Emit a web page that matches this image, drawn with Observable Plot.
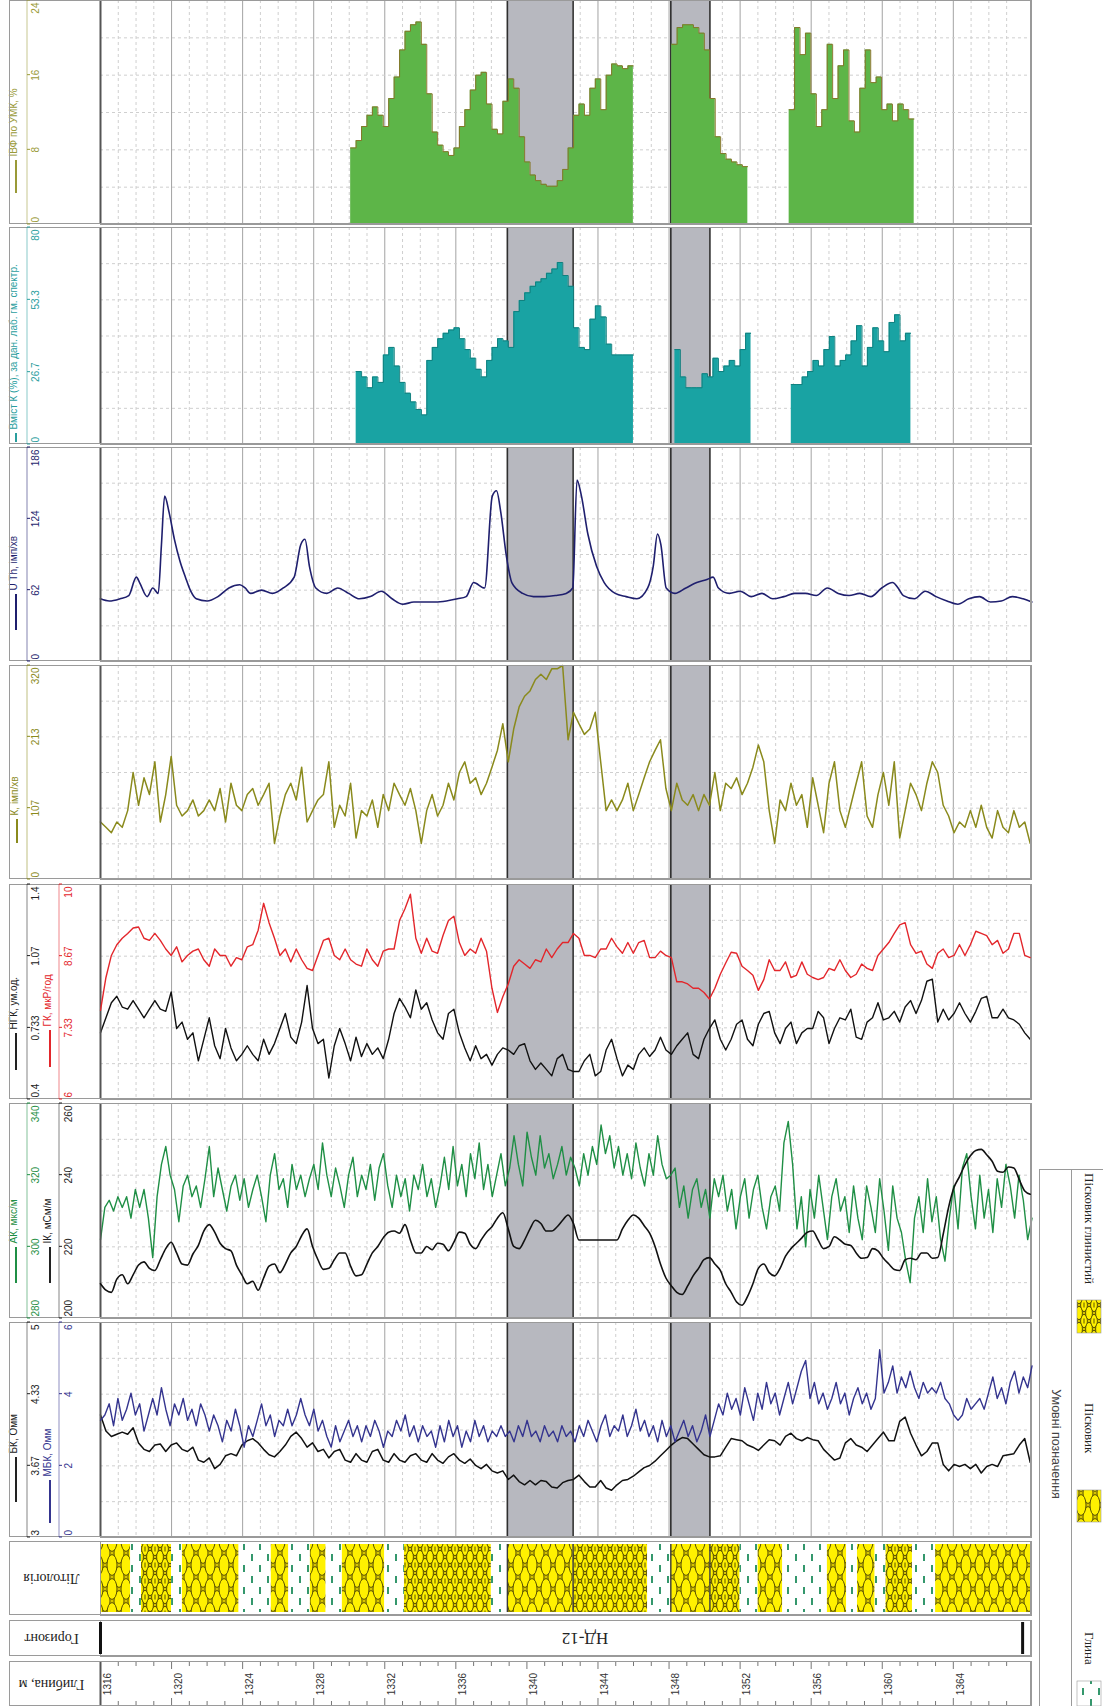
<!DOCTYPE html>
<html><head><meta charset="utf-8">
<script src="https://cdn.jsdelivr.net/npm/d3@7"></script>
<script src="https://cdn.jsdelivr.net/npm/@observablehq/plot@0.6"></script>
<style>
body{margin:0;background:#fff;}
#root{position:relative;width:1103px;height:1706px;overflow:hidden;font-family:Arial,"Liberation Sans",sans-serif;}
</style></head><body><div id="root"></div>
<script>
// ---------------- DATA ----------------
const START = 1316;
const DEPTH_END = 1368.4;
const STEP5 = 0.306;   // sampling step (m) of the dense logs
const STEP4 = 0.245;

const kValues = [86,78,70,86,78,103,160,111,152,127,176,86,127,184,111,95,103,119,95,103,119,103,136,86,144,111,103,127,136,111,127,144,54,95,127,144,119,168,86,103,119,127,176,78,111,95,144,62,103,95,119,78,127,103,144,127,111,136,103,54,103,127,95,111,144,119,160,176,144,152,127,144,168,193,233,176,225,258,274,282,299,307,299,315,315,320,209,250,233,217,225,250,176,103,119,103,119,144,103,127,152,176,193,209,136,103,144,119,111,127,103,127,111,160,103,144,136,152,127,144,168,201,176,103,54,119,103,144,111,127,78,152,111,70,144,176,103,78,111,144,176,95,78,127,160,111,176,62,103,144,127,103,144,176,160,111,95,70,86,78,103,78,111,78,62,103,78,70,103,78,86,54];

const ngkValues = [.71,.78,.85,.88,.83,.82,.86,.82,.78,.82,.86,.82,.81,.90,.73,.76,.68,.71,.58,.68,.78,.65,.59,.73,.64,.58,.61,.65,.61,.58,.68,.61,.66,.73,.80,.69,.66,.76,.93,.73,.66,.68,.50,.65,.73,.66,.58,.69,.60,.66,.61,.64,.59,.68,.80,.87,.83,.78,.91,.82,.85,.77,.71,.68,.80,.82,.71,.64,.58,.65,.59,.61,.56,.61,.64,.63,.61,.65,.66,.58,.54,.57,.54,.51,.59,.61,.54,.53,.53,.58,.61,.51,.53,.63,.68,.59,.51,.56,.54,.61,.64,.60,.63,.69,.63,.61,.65,.68,.71,.61,.59,.68,.73,.77,.68,.63,.68,.75,.77,.68,.65,.75,.80,.81,.71,.66,.73,.76,.66,.71,.73,.73,.81,.78,.66,.73,.78,.77,.82,.69,.68,.76,.78,.85,.77,.78,.81,.76,.83,.86,.80,.86,.95,.96,.76,.82,.77,.80,.85,.80,.76,.81,.87,.88,.78,.78,.82,.78,.77,.75,.71,.68];

const gkValues = [7.66,8.27,8.68,8.88,9.00,9.09,9.19,9.21,9.00,8.96,9.09,8.96,8.80,8.68,8.84,8.56,8.68,8.76,8.80,8.60,8.48,8.80,8.68,8.68,8.48,8.64,8.60,8.84,8.88,9.15,9.65,9.29,9.00,8.68,8.80,8.56,8.80,8.60,8.44,8.40,8.68,8.96,9.00,8.68,8.60,8.80,8.60,8.52,8.48,8.80,8.60,8.48,8.76,8.80,8.80,9.33,9.55,9.82,9.00,8.72,9.00,8.76,8.72,9.05,9.33,9.41,8.92,8.68,8.80,8.72,9.00,8.76,8.07,7.62,7.91,8.15,8.48,8.60,8.52,8.44,8.60,8.56,8.80,8.64,8.80,8.92,8.92,9.09,9.00,8.68,8.68,8.64,8.80,8.80,9.00,8.84,8.72,8.92,8.72,8.92,8.96,8.64,8.64,8.76,8.68,8.64,8.19,8.19,8.15,8.07,8.07,7.99,7.87,8.07,8.33,8.54,8.74,8.72,8.48,8.40,8.31,8.03,8.23,8.60,8.40,8.40,8.56,8.27,8.31,8.56,8.33,8.27,8.23,8.27,8.44,8.40,8.60,8.40,8.27,8.33,8.52,8.44,8.40,8.68,8.80,8.92,9.09,9.25,9.29,8.88,8.72,8.76,8.52,8.44,8.72,8.80,8.64,8.68,8.88,8.68,8.88,9.13,9.09,9.05,8.88,8.96,8.72,8.80,9.09,9.09,8.68,8.64];

const ikValues = [209.7,207.9,207.3,211.0,212.2,209.7,212.2,214.9,215.8,214.0,213.4,216.4,219.5,221.3,218.3,215.2,214.9,218.0,220.4,224.4,226.2,224.1,221.0,219.5,218.9,214.9,212.2,209.7,210.4,207.9,211.3,214.6,215.2,212.8,215.2,218.3,220.1,223.1,225.0,220.1,216.4,213.7,214.0,216.4,218.3,218.3,214.6,211.9,212.2,215.2,218.3,220.1,222.5,224.1,224.4,223.8,226.2,221.9,218.3,218.3,220.1,219.2,221.0,220.7,218.9,221.3,224.1,223.8,220.7,219.5,221.9,224.1,225.6,228.0,229.5,225.0,220.1,219.5,221.9,225.0,227.4,226.5,224.4,224.4,225.6,227.4,228.9,226.5,221.9,221.9,221.9,221.9,221.9,221.9,221.9,221.9,225.0,227.4,228.9,228.0,225.9,223.8,220.1,215.2,211.3,209.1,207.3,206.7,209.1,211.9,214.0,216.4,217.0,215.2,213.4,209.7,207.3,204.6,203.7,206.1,209.7,214.0,215.2,212.8,211.9,214.0,217.4,219.5,221.0,222.5,224.1,224.4,221.9,219.5,220.1,222.8,221.9,220.7,220.4,218.3,216.8,217.0,219.5,218.9,216.8,215.2,213.7,213.4,216.4,216.8,216.4,218.3,218.3,216.8,217.0,223.5,231.1,236.6,239.6,242.9,245.4,246.9,247.2,245.7,243.9,241.1,240.8,242.3,242.0,238.7,235.6,234.7];

const bkValues = [4.14,3.99,3.94,3.96,3.98,3.96,4.02,3.88,3.82,3.80,3.86,3.87,3.80,3.86,3.88,3.82,3.80,3.84,3.72,3.70,3.74,3.64,3.68,3.76,3.78,3.76,3.86,3.90,3.92,3.88,3.82,3.77,3.75,3.80,3.86,3.94,3.98,3.92,3.84,3.88,3.80,3.82,3.74,3.80,3.82,3.72,3.70,3.78,3.72,3.70,3.80,3.82,3.72,3.70,3.78,3.72,3.70,3.76,3.78,3.72,3.70,3.78,3.72,3.69,3.75,3.78,3.72,3.69,3.73,3.67,3.64,3.68,3.62,3.60,3.62,3.54,3.58,3.52,3.49,3.53,3.49,3.53,3.52,3.47,3.46,3.51,3.53,3.54,3.58,3.52,3.47,3.47,3.53,3.46,3.44,3.49,3.53,3.54,3.57,3.61,3.65,3.67,3.71,3.76,3.81,3.86,3.90,3.93,3.92,3.87,3.82,3.77,3.75,3.75,3.76,3.84,3.92,3.91,3.90,3.86,3.84,3.81,3.86,3.91,3.90,3.86,3.94,3.97,3.92,3.90,3.93,3.91,3.90,3.82,3.77,3.72,3.74,3.88,3.92,3.86,3.84,3.80,3.86,3.92,3.98,3.90,3.90,4.08,4.12,3.97,3.86,3.76,3.80,3.88,3.88,3.68,3.62,3.68,3.66,3.68,3.64,3.68,3.60,3.66,3.68,3.66,3.76,3.77,3.78,3.86,3.92,3.70];

const akValues = [302,311,313,310,314,311,314,308,316,311,316,308,297,314,323,328,320,316,307,317,320,314,317,311,319,328,314,322,316,310,317,320,313,319,311,316,320,314,307,320,326,316,319,311,323,316,320,314,319,323,316,329,320,314,322,317,311,320,325,314,320,316,323,313,322,326,317,311,320,314,319,310,320,316,323,314,319,311,317,325,316,328,317,323,314,326,319,329,316,323,314,320,326,317,322,331,323,317,332,325,320,331,322,326,319,323,328,320,325,322,317,326,320,328,323,334,326,331,322,328,320,326,319,329,322,317,326,320,331,323,319,320,322,311,317,308,316,319,311,316,308,319,314,320,310,316,305,314,319,308,316,320,311,305,314,317,310,329,335,323,305,314,300,316,308,320,311,302,314,319,310,314,304,317,308,302,317,311,304,319,310,299,317,308,304,296,290,308,314,304,319,307,314,302,296,308,317,305,322,326,314,305,320,308,316,304,319,311,323,317,308,320,313,302,308];

const mbkValues = [3.27,3.42,3.73,3.12,3.88,3.27,3.58,4.03,3.42,3.73,2.97,3.42,3.88,3.42,4.18,3.58,3.12,3.73,3.42,3.88,3.27,3.58,3.12,3.73,3.42,2.97,3.42,3.12,2.67,3.27,2.97,3.58,3.12,2.52,3.12,2.82,3.27,3.73,3.12,3.42,2.82,3.27,3.12,3.58,3.12,3.42,3.88,3.42,3.12,3.58,2.97,3.27,2.82,2.52,3.12,2.67,2.97,3.27,2.82,3.12,2.67,3.12,2.82,3.27,2.97,2.52,2.97,2.82,3.27,2.97,3.42,2.82,3.12,2.67,3.12,2.82,2.97,2.52,3.12,2.67,3.27,2.82,3.12,2.52,2.97,2.67,3.27,2.82,3.12,2.67,2.97,2.82,3.12,2.82,2.97,2.67,3.12,2.82,3.27,2.82,2.97,2.67,3.12,2.82,2.97,2.67,3.12,2.82,2.97,2.67,3.12,2.82,3.27,2.97,2.67,3.12,3.42,2.82,3.12,2.97,3.42,2.82,3.12,3.58,2.97,3.27,2.82,3.12,2.67,3.27,2.82,3.12,2.67,2.97,3.27,2.82,3.12,2.67,2.97,3.42,2.82,3.27,3.73,3.42,4.03,3.58,3.88,3.42,4.18,3.73,3.27,4.03,3.58,4.33,3.73,4.03,3.42,3.88,4.33,3.73,4.18,4.64,4.94,3.88,4.33,3.73,4.03,3.58,3.88,4.33,3.73,4.03,3.42,3.88,4.18,3.73,4.03,3.58,3.88,5.24,4.03,4.33,4.79,4.03,4.48,4.18,4.64,4.18,3.88,4.33,4.03,4.18,4.03,4.33,3.88,3.73,3.42,3.27,3.42,3.88,3.58,3.73,3.88,3.58,4.03,4.48,3.88,4.18,3.73,4.33,4.64,4.03,4.48,4.18,4.79];

const uthDepth = [1316.0,1316.49,1317.1,1317.59,1318.02,1318.2,1318.63,1318.94,1319.25,1319.43,1319.61,1319.86,1320.16,1320.47,1320.78,1321.08,1321.39,1322.0,1322.61,1323.23,1323.84,1324.14,1324.45,1325.06,1325.68,1326.29,1326.9,1327.27,1327.51,1327.76,1328.12,1328.74,1329.35,1329.96,1330.57,1331.19,1331.8,1332.41,1333.02,1333.64,1334.25,1334.86,1335.47,1336.09,1336.58,1337.0,1337.62,1338.05,1338.29,1338.53,1338.84,1339.15,1339.76,1340.37,1340.98,1341.6,1342.21,1342.58,1342.82,1343.07,1343.43,1343.92,1344.35,1344.97,1345.58,1346.19,1346.8,1347.11,1347.35,1347.54,1347.84,1348.33,1348.95,1349.56,1350.17,1350.48,1350.78,1351.4,1352.01,1352.62,1353.23,1353.84,1354.46,1355.07,1355.68,1356.29,1356.91,1357.52,1358.13,1358.74,1359.36,1359.97,1360.58,1360.89,1361.19,1361.81,1362.42,1363.03,1363.64,1364.25,1364.87,1365.48,1366.09,1366.7,1367.32,1367.93,1368.42];
const uthValues = [54.5,52.6,54.5,57.3,73.3,68.6,56.4,63.9,59.2,101.5,143.7,129.6,106.2,87.4,73.3,61.1,54.5,52.6,56.4,63.9,66.7,63.9,59.2,62,59.2,63.9,73.3,101.5,106.2,82.7,63.9,59.2,63.9,59.2,54.5,56.4,61.1,54.5,49.8,51.7,51.7,51.7,52.6,54.5,56.4,68.6,63.9,143.7,148.4,129.6,92.1,68.6,59.2,56.4,56.4,57.3,59.2,63.9,157.8,143.7,110.8,82.7,68.6,59.2,56.4,54.5,63.9,82.7,110.8,101.5,63.9,59.2,63.9,68.6,71.4,73.3,63.9,59.2,61.1,56.4,59.2,54.5,56.4,59.2,59.2,57.3,63.9,59.2,57.3,59.2,56.4,63.9,68.6,63.9,57.3,54.5,61.1,56.4,52.6,49.8,54.5,56.4,51.7,52.6,56.4,54.5,51.7];

const ivfSegments = [
  {start: 1330.08, values: [8.2,9.0,10.5,11.7,12.6,11.7,10.5,13.5,15.8,18.7,20.7,21.4,21.7,19.3,14.0,9.9,8.5,7.8,7.4,8.2,10.5,12.3,14.4,16.0,16.3,12.9,10.2,9.7,13.2,15.6,14.6,9.4,6.7,5.3,4.7,4.3,4.1,4.1,4.7,5.9,8.2,11.7,12.9,11.7,14.6,15.6,12.3,16.0,17.2,17.0,16.7,17.0]},
  {start: 1348.15, values: [19.3,21.1,21.4,21.4,21.1,20.5,18.7,13.5,9.4,7.6,7.0,6.7,6.4,6.2]},
  {start: 1354.76, values: [12.3,21.1,18.2,20.5,14.0,10.5,12.3,19.3,13.5,17.0,18.7,11.1,9.9,14.6,18.7,15.2,15.8,12.3,12.9,11.1,12.9,12.3,11.3]}
];
const kContentSegments = [
  {start: 1330.39, values: [26.9,24.9,20.9,24.9,22.9,33.0,35.8,28.9,22.9,18.9,15.7,12.9,10.9,31.0,35.8,39.0,41.0,42.2,43.0,39.0,35.0,31.8,27.7,24.9,31.0,35.8,39.0,38.2,35.8,49.0,53.1,55.9,58.3,59.9,61.1,63.1,64.7,67.1,62.3,58.3,43.0,35.8,35.0,46.2,51.1,47.0,37.0,33.0,33.0,33.0,33.0]},
  {start: 1348.33, values: [35.0,24.9,20.9,20.9,20.9,26.1,24.9,31.8,26.9,28.9,31.0,28.9,35.0,41.0]},
  {start: 1354.88, values: [22.1,22.1,24.9,26.9,31.0,28.9,35.0,39.8,28.9,31.0,33.0,38.2,43.8,28.9,35.8,43.0,38.2,34.2,45.0,47.8,38.2,41.0]}
];

const lithology = [
 {from:1316.0,to:1317.7,rock:"sand"},{from:1317.7,to:1318.3,rock:"clay"},
 {from:1318.3,to:1320.0,rock:"sandclay"},{from:1320.0,to:1320.6,rock:"clay"},
 {from:1320.6,to:1323.8,rock:"sand"},{from:1323.8,to:1325.6,rock:"clay"},
 {from:1325.6,to:1326.6,rock:"sand"},{from:1326.6,to:1327.8,rock:"clay"},
 {from:1327.8,to:1328.7,rock:"sand"},{from:1328.7,to:1329.6,rock:"clay"},
 {from:1329.6,to:1332.0,rock:"sand"},{from:1332.0,to:1333.1,rock:"clay"},
 {from:1333.1,to:1338.0,rock:"sandclay"},{from:1338.0,to:1338.9,rock:"clay"},
 {from:1338.9,to:1342.6,rock:"sand"},{from:1342.6,to:1346.8,rock:"sandclay"},
 {from:1346.8,to:1348.1,rock:"clay"},{from:1348.1,to:1350.3,rock:"sand"},
 {from:1350.3,to:1352.0,rock:"sandclay"},{from:1352.0,to:1353.0,rock:"clay"},
 {from:1353.0,to:1354.4,rock:"sand"},{from:1354.4,to:1356.9,rock:"clay"},
 {from:1356.9,to:1358.0,rock:"sand"},{from:1358.0,to:1358.6,rock:"clay"},
 {from:1358.6,to:1359.6,rock:"sand"},{from:1359.6,to:1360.2,rock:"clay"},
 {from:1360.2,to:1361.7,rock:"sandclay"},{from:1361.7,to:1363.0,rock:"clay"},
 {from:1363.0,to:1368.4,rock:"sand"}
];
const bands = [{from:1338.9,to:1342.6},{from:1348.1,to:1350.3}];
const horizonName = "НД-12";
const horizonEnds = [1316, 1367.9];
const depthLabelTicks = [1316,1320,1324,1328,1332,1336,1340,1344,1348,1352,1356,1360,1364];

const ivfTicks = [0,8,16,24],            ivfLabels = ["0","8","16","24"];
const kcTicks = [0,26.67,53.33,80],      kcLabels = ["0","26.7","53.3","80"];
const uthTicks = [0,62,124,186],         uthLabels = ["0","62","124","186"];
const kTicks = [0,106.67,213.33,320],    kLabels = ["0","107","213","320"];
const ngkTicks = [0.4,0.733,1.067,1.4],  ngkLabels = ["0.4","0.733","1.07","1.4"];
const gkTicks = [6,7.333,8.667,10],      gkLabels = ["6","7.33","8.67","10"];
const akTicks = [280,300,320,340],       akLabels = ["280","300","320","340"];
const ikTicks = [200,220,240,260],       ikLabels = ["200","220","240","260"];
const bkTicks = [3,3.667,4.333,5],       bkLabels = ["3","3.67","4.33","5"];
const mbkTicks = [0,2,4,6],              mbkLabels = ["0","2","4","6"];

const legendItems = [
  {label:"Пісковик глинистий", rock:"sandclay"},
  {label:"Пісковик", rock:"sand"},
  {label:"Глина", rock:"clay"}
];

// ---------------- HELPERS ----------------
const root = document.getElementById("root");
const W = 1031, X0 = 100;
const DOMAIN = [START, DEPTH_END];
const FONT = "font-family: Arial, 'Liberation Sans', sans-serif;";
const minorDepths = d3.range(1317, 1369).filter(d => (d - 1316) % 4 !== 0);
const majorDepths = d3.range(1320, 1368, 4);

root.insertAdjacentHTML("beforeend", `
<svg width="0" height="0" style="position:absolute">
<defs>
<pattern id="pSand" patternUnits="userSpaceOnUse" width="14" height="24">
  <rect width="14" height="24" fill="#d6c400"/>
  <g fill="#fff100" stroke="#463e00" stroke-width="0.9">
  <ellipse cx="7" cy="12" rx="5" ry="10.4"/>
  <ellipse cx="0" cy="0" rx="5" ry="10.4"/><ellipse cx="14" cy="0" rx="5" ry="10.4"/>
  <ellipse cx="0" cy="24" rx="5" ry="10.4"/><ellipse cx="14" cy="24" rx="5" ry="10.4"/>
  </g>
</pattern>
<pattern id="pSandClay" patternUnits="userSpaceOnUse" width="10" height="16">
  <rect width="10" height="16" fill="#d6c400"/>
  <g fill="#fff100" stroke="#463e00" stroke-width="0.9">
  <ellipse cx="5" cy="8" rx="3.4" ry="6.6"/>
  <ellipse cx="0" cy="0" rx="3.4" ry="6.6"/><ellipse cx="10" cy="0" rx="3.4" ry="6.6"/>
  <ellipse cx="0" cy="16" rx="3.4" ry="6.6"/><ellipse cx="10" cy="16" rx="3.4" ry="6.6"/>
  </g>
  <line x1="5" y1="5.5" x2="5" y2="10.5" stroke="#463e00" stroke-width="0.9"/>
</pattern>
<pattern id="pClay" patternUnits="userSpaceOnUse" width="16" height="22">
  <rect width="16" height="22" fill="#ffffff"/>
  <line x1="4" y1="2" x2="4" y2="9" stroke="#1e8c5c" stroke-width="1.8"/>
  <line x1="12" y1="13" x2="12" y2="20" stroke="#1e8c5c" stroke-width="1.8"/>
</pattern>
</defs></svg>`);

const patternOf = {sand: "url(#pSand)", sandclay: "url(#pSandClay)", clay: "url(#pClay)"};

function place(el, top, left = 0) {
  el.style.position = "absolute"; el.style.top = top + "px"; el.style.left = left + "px";
  root.appendChild(el);
}
const series = (values, step) => values.map((v, i) => ({depth: START + i * step, value: v}));
const segSeries = (segs, step) => segs.flatMap((s, k) => {
  const pts = s.values.map((v, i) => ({depth: s.start + i * step, value: v, seg: k}));
  pts.push({depth: s.start + s.values.length * step, value: s.values[s.values.length - 1], seg: k});
  return pts;
});

function gridMarks(domain) {
  const [a, b] = domain;
  const ys = d3.range(1, 6).map(k => a + (b - a) * k / 6);
  return [
    Plot.ruleX(minorDepths, {stroke: "#cfcfcf", strokeDasharray: "3,3"}),
    Plot.ruleX(majorDepths, {stroke: "#a3a3a3"}),
    Plot.ruleY(ys, {stroke: "#cfcfcf", strokeDasharray: "3,3"}),
    Plot.rect(bands, {x1: "from", x2: "to", fill: "#b7b8bf"}),
    Plot.ruleX(bands.flatMap(b => [b.from, b.to]), {stroke: "#2f2f2f", strokeWidth: 1.6})
  ];
}

function scaleMarks(ticks, labels, color, col) {
  const n = ticks.length;
  const base = {frameAnchor: "left", rotate: -90, fill: color, fontSize: 10, dx: col - X0};
  return [
    Plot.text([0], {...base, y: () => ticks[0], text: () => labels[0], textAnchor: "start", dy: -2}),
    Plot.text(d3.range(1, n - 1), {...base, y: i => ticks[i], text: i => labels[i], textAnchor: "middle"}),
    Plot.text([n - 1], {...base, y: () => ticks[n - 1], text: () => labels[n - 1], textAnchor: "end", dy: 2})
  ];
}

// one curve layer of a track (first layer carries grid & frame)
function layer({top, h, domain, marks, ticks, labels, color, titleColor, title, col, titleX, lineX, off, len, base}) {
  const all = [];
  if (base) all.push(...gridMarks(domain));
  all.push(...marks);
  all.push(...scaleMarks(ticks, labels, color, col));
  all.push(Plot.text([title], {frameAnchor: "bottom-left", dx: titleX - X0, dy: -(off + len + 4), rotate: -90,
    textAnchor: "start", fill: titleColor || color, fontSize: 10, text: d => d}));
  if (base) {
    all.push(Plot.frame({stroke: "#9a9a9a"}));
    all.push(Plot.ruleX([START], {stroke: "#555", strokeWidth: 2}));
  }
  const svg = Plot.plot({
    width: W, height: h, marginLeft: X0, marginRight: 0, marginTop: 0, marginBottom: 0,
    x: {domain: DOMAIN, axis: null},
    y: {domain, axis: null},
    style: (base ? "background:white;" : "background:transparent;") + "overflow:visible;" + FONT,
    marks: all
  });
  const s = d3.select(svg), y = svg.scale("y");
  if (base) s.append("rect").attr("x", 9.5).attr("y", 0.5).attr("width", W - 10).attr("height", h - 1)
    .attr("fill", "none").attr("stroke", "#9a9a9a");
  s.append("line").attr("x1", lineX).attr("x2", lineX).attr("y1", 0).attr("y2", h)
    .attr("stroke", color).attr("stroke-opacity", 0.55);
  for (const t of ticks) {
    const yy = y.apply(t);
    s.append("line").attr("x1", lineX).attr("x2", lineX + 3).attr("y1", yy).attr("y2", yy).attr("stroke", color);
  }
  s.append("line").attr("x1", titleX).attr("x2", titleX).attr("y1", h - off).attr("y2", h - off - len)
    .attr("stroke", color).attr("stroke-width", 2);
  place(svg, top);
}

// ---------------- TRACKS ----------------
const ivfData = segSeries(ivfSegments, STEP5);
layer({top: 0, h: 224, domain: [0, 24], base: true,
  marks: [Plot.areaY(ivfData, {x: "depth", y: "value", z: "seg", curve: "step-after", fill: "#5db548"}),
          Plot.lineY(ivfData, {x: "depth", y: "value", z: "seg", curve: "step-after", stroke: "#85772a", strokeWidth: 1})],
  ticks: ivfTicks, labels: ivfLabels, color: "#9a9a38", title: "ІВФ по УМК, %", col: 35, titleX: 16, lineX: 27, off: 31, len: 33});

const kcData = segSeries(kContentSegments, STEP5);
layer({top: 227, h: 217, domain: [0, 80], base: true,
  marks: [Plot.areaY(kcData, {x: "depth", y: "value", z: "seg", curve: "step-after", fill: "#19a3a3"}),
          Plot.lineY(kcData, {x: "depth", y: "value", z: "seg", curve: "step-after", stroke: "#11807f", strokeWidth: 1})],
  ticks: kcTicks, labels: kcLabels, color: "#2a9e9e", title: "Вміст К (%), за дан. лаб. гм. спектр.", col: 35, titleX: 16, lineX: 27, off: 2, len: 9});

const uthData = uthDepth.map((d, i) => ({depth: d, value: uthValues[i]}));
layer({top: 447, h: 214, domain: [0, 186], base: true,
  marks: [Plot.line(uthData, {x: "depth", y: "value", curve: "monotone-x", stroke: "#1f1f6e", strokeWidth: 1.6})],
  ticks: uthTicks, labels: uthLabels, color: "#1f1f6e", title: "U Th, імп/хв", col: 35, titleX: 16, lineX: 27, off: 31, len: 36});

layer({top: 665, h: 214, domain: [0, 320], base: true,
  marks: [Plot.line(series(kValues, STEP5), {x: "depth", y: "value", stroke: "#8a8a1c", strokeWidth: 1.5})],
  ticks: kTicks, labels: kLabels, color: "#8a8a1c", title: "К, імп/хв", col: 35, titleX: 17, lineX: 27, off: 36, len: 24});

layer({top: 884, h: 215, domain: [0.4, 1.4], base: true,
  marks: [Plot.line(series(ngkValues, STEP5), {x: "depth", y: "value", stroke: "#111", strokeWidth: 1.4})],
  ticks: ngkTicks, labels: ngkLabels, color: "#222", title: "НГК, ум.од.", col: 35, titleX: 16, lineX: 27, off: 29, len: 37});
layer({top: 884, h: 215, domain: [6, 10], base: false,
  marks: [Plot.line(series(gkValues, STEP5), {x: "depth", y: "value", stroke: "#e3262b", strokeWidth: 1.4})],
  ticks: gkTicks, labels: gkLabels, color: "#e3262b", title: "ГК, мкР/год", col: 68, titleX: 50, lineX: 59, off: 32, len: 37});

layer({top: 1103, h: 215, domain: [280, 340], base: true,
  marks: [Plot.line(series(akValues, STEP4), {x: "depth", y: "value", stroke: "#1f8f45", strokeWidth: 1.4})],
  ticks: akTicks, labels: akLabels, color: "#1f8f45", title: "АК, мкс/м", col: 35, titleX: 16, lineX: 27, off: 35, len: 36});
layer({top: 1103, h: 215, domain: [200, 260], base: false,
  marks: [Plot.line(series(ikValues, STEP5), {x: "depth", y: "value", curve: "monotone-x", stroke: "#111", strokeWidth: 1.6})],
  ticks: ikTicks, labels: ikLabels, color: "#222", title: "ІК, мСм/м", col: 68, titleX: 50, lineX: 59, off: 35, len: 36});

layer({top: 1322, h: 215, domain: [3, 5], base: true,
  marks: [Plot.line(series(bkValues, STEP5), {x: "depth", y: "value", stroke: "#111", strokeWidth: 1.5})],
  ticks: bkTicks, labels: bkLabels, color: "#222", title: "БК, Омм", col: 35, titleX: 16, lineX: 27, off: 35, len: 45});
layer({top: 1322, h: 215, domain: [0, 6], base: false,
  marks: [Plot.line(series(mbkValues, STEP4), {x: "depth", y: "value", stroke: "#34348f", strokeWidth: 1.4})],
  ticks: mbkTicks, labels: mbkLabels, color: "#34348f", title: "МБК, Омм", col: 68, titleX: 50, lineX: 59, off: 14, len: 43});

// ---------------- LITHOLOGY / HORIZON / DEPTH ----------------
function rowFrame(svg, h) {
  d3.select(svg).append("rect").attr("x", 9.5).attr("y", 0.5).attr("width", W - 10).attr("height", h - 1)
    .attr("fill", "none").attr("stroke", "#9a9a9a");
}
const SERIF = "Liberation Serif, Times New Roman, serif";
const rowTitle = (t) => Plot.text([t], {frameAnchor: "left", dx: -49, rotate: 180, textAnchor: "middle",
  fontSize: 14, fontFamily: SERIF, fill: "#222", text: d => d});

{
  const h = 74;
  const svg = Plot.plot({
    width: W, height: h, marginLeft: X0, marginRight: 0, marginTop: 0, marginBottom: 0,
    x: {domain: DOMAIN, axis: null}, style: "background:white;overflow:visible;" + FONT,
    marks: [
      ...["sand", "sandclay", "clay"].map(r => Plot.rect(lithology.filter(d => d.rock === r), {x1: "from", x2: "to", fill: patternOf[r], insetTop: 3, insetBottom: 3})),
      Plot.ruleX(bands.flatMap(b => [b.from, b.to]), {stroke: "#3a3a3a", strokeWidth: 1.4, insetTop: 3, insetBottom: 3}),
      Plot.frame({stroke: "#9a9a9a"}),
      rowTitle("Літологія")
    ]
  });
  rowFrame(svg, h); place(svg, 1541);
}
{
  const h = 36;
  const svg = Plot.plot({
    width: W, height: h, marginLeft: X0, marginRight: 0, marginTop: 0, marginBottom: 0,
    x: {domain: DOMAIN, axis: null}, style: "background:white;overflow:visible;" + FONT,
    marks: [
      Plot.frame({stroke: "#9a9a9a"}),
      Plot.ruleX(horizonEnds, {stroke: "#111", strokeWidth: 3, insetTop: 2, insetBottom: 2}),
      Plot.text([horizonName], {frameAnchor: "middle", dx: 19, rotate: 180, textAnchor: "middle", fontSize: 17, fontFamily: SERIF, fill: "#222", text: d => d}),
      rowTitle("Горизонт")
    ]
  });
  rowFrame(svg, h); place(svg, 1620);
}
{
  const h = 45;
  const minorAll = d3.range(1317, 1369).filter(d => (d - 1316) % 4 !== 0);
  const svg = Plot.plot({
    width: W, height: h, marginLeft: X0, marginRight: 0, marginTop: 0, marginBottom: 0,
    x: {domain: DOMAIN, axis: null}, style: "background:white;overflow:visible;" + FONT,
    marks: [
      Plot.frame({stroke: "#9a9a9a"}),
      Plot.ruleX(minorAll, {stroke: "#777", insetBottom: h - 5}),
      Plot.ruleX(minorAll, {stroke: "#777", insetTop: h - 5}),
      Plot.ruleX(depthLabelTicks, {stroke: "#777", insetBottom: h - 8}),
      Plot.ruleX(depthLabelTicks, {stroke: "#777", insetTop: h - 8}),
      Plot.ruleX([START], {stroke: "#555", strokeWidth: 2}),
      Plot.text(depthLabelTicks, {x: d => d, frameAnchor: "middle", rotate: -90, dx: 7, textAnchor: "middle", fontSize: 10, fill: "#333", text: d => String(d)}),
      rowTitle("Глибина, м")
    ]
  });
  rowFrame(svg, h); place(svg, 1661);
}

// ---------------- LEGEND ----------------
{
  const lw = 64, lh = 537;
  const svg = d3.create("svg").attr("width", lw).attr("height", lh).style("overflow", "visible").node();
  const s = d3.select(svg);
  s.append("rect").attr("x", 0.5).attr("y", 0.5).attr("width", lw + 5).attr("height", lh + 5).attr("fill", "white").attr("stroke", "#9a9a9a");
  s.append("line").attr("x1", 32.5).attr("x2", 32.5).attr("y1", 0).attr("y2", lh).attr("stroke", "#9a9a9a");
  s.append("text").attr("transform", "translate(16,275) rotate(90)").attr("text-anchor", "middle")
    .attr("dominant-baseline", "middle").attr("font-size", 12.5).attr("fill", "#444")
    .attr("font-family", "Arial, Liberation Sans, sans-serif").text("Умовні позначення");
  const pos = [{t: 4, sw: 131, sh: 33}, {t: 234, sw: 321, sh: 32}, {t: 463, sw: 512, sh: 25}];
  legendItems.forEach((it, i) => {
    const p = pos[i];
    s.append("text").attr("transform", `translate(49,${p.t}) rotate(90)`).attr("text-anchor", "start")
      .attr("dominant-baseline", "middle").attr("font-size", 13).attr("fill", "#222")
      .attr("font-family", SERIF).text(it.label);
    s.append("rect").attr("x", 38).attr("y", p.sw).attr("width", 24).attr("height", p.sh)
      .attr("fill", patternOf[it.rock]).attr("stroke", "#999").attr("stroke-width", 0.6);
  });
  place(svg, 1169, 1039);
}
</script></body></html>
